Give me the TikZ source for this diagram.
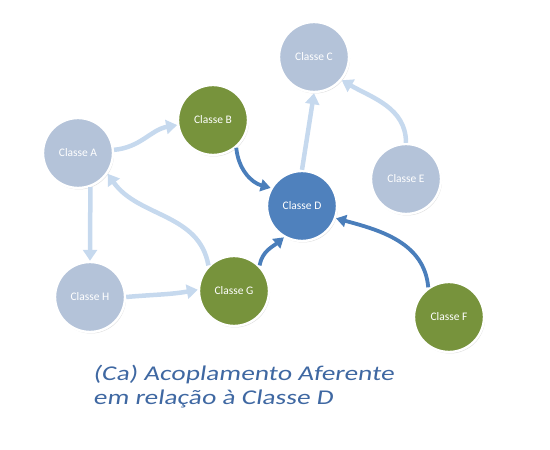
\documentclass[tikz,border=0pt]{standalone}
\usepackage{fontspec}
\setmainfont{Carlito}
\newfontfamily\handfont[FakeStretch=1.3,FakeSlant=0.15]{Carlito}
\usetikzlibrary{arrows.meta,shadows}
\definecolor{paleclass}{HTML}{B4C3D9}
\definecolor{greenclass}{HTML}{77933C}
\definecolor{blueclass}{HTML}{4F81BD}
\definecolor{palearrow}{HTML}{C6D9EE}
\definecolor{darkarrow}{HTML}{4A7EBB}
\definecolor{captionblue}{HTML}{3F68A2}
\begin{document}
\begin{tikzpicture}[x=1pt,y=1pt,
  cls/.style={circle,draw=white,line width=2.4pt,minimum size=70pt,inner sep=0pt,
    text=white,font=\fontsize{11.5}{13}\selectfont,
    drop shadow={shadow xshift=1pt,shadow yshift=-1.5pt,opacity=0.25}},
  pale/.style={cls,fill=paleclass},
  green/.style={cls,fill=greenclass},
  blue/.style={cls,fill=blueclass},
  weak/.style={draw=palearrow,line width=4.5pt,-{Triangle[length=11pt,width=14pt]}},
  strong/.style={draw=darkarrow,line width=3.8pt,-{Triangle[length=10pt,width=12pt]}}]
  \useasboundingbox (0,0) rectangle (550,450);
  % the classes
  \node[pale] (cA) at (78,297) {Classe A};
  \node[green] (cB) at (213,330) {Classe B};
  \node[pale] (cC) at (314,393) {Classe C};
  \node[blue] (cD) at (302,244) {Classe D};
  \node[pale] (cE) at (406,271) {Classe E};
  \node[green] (cF) at (449,133) {Classe F};
  \node[green] (cG) at (234,159) {Classe G};
  \node[pale] (cH) at (90,153) {Classe H};
  % couplings that do not involve D
  \draw[weak] (cA.5) to[out=5,in=190] (cB.188);
  \draw[weak] (cA.-70) -- (cH.north);
  \draw[weak] (cH.east) to[out=5,in=190] (cG.178);
  \draw[weak] (cG.135) to[out=100,in=-55] (cA.-35);
  \draw[weak] (cD.north) -- (cC.south);
  \draw[weak] (cE.north) to[out=90,in=-30] (cC.-40);
  % afferent couplings of D
  \draw[strong] (cB.-50) to[out=-85,in=165] (cD.150);
  \draw[strong] (cG.45) to[out=80,in=-140] (cD.-120);
  \draw[strong] (cF.125) to[out=95,in=-15] (cD.-20);
  % caption
  \node[anchor=north west,align=left,text=captionblue,inner sep=0pt,
    font=\handfont\fontsize{21}{24}\selectfont] (cap) at (93,85)
    {(Ca) Acoplamento Aferente\\em relação à Classe D};
\end{tikzpicture}
\end{document}
